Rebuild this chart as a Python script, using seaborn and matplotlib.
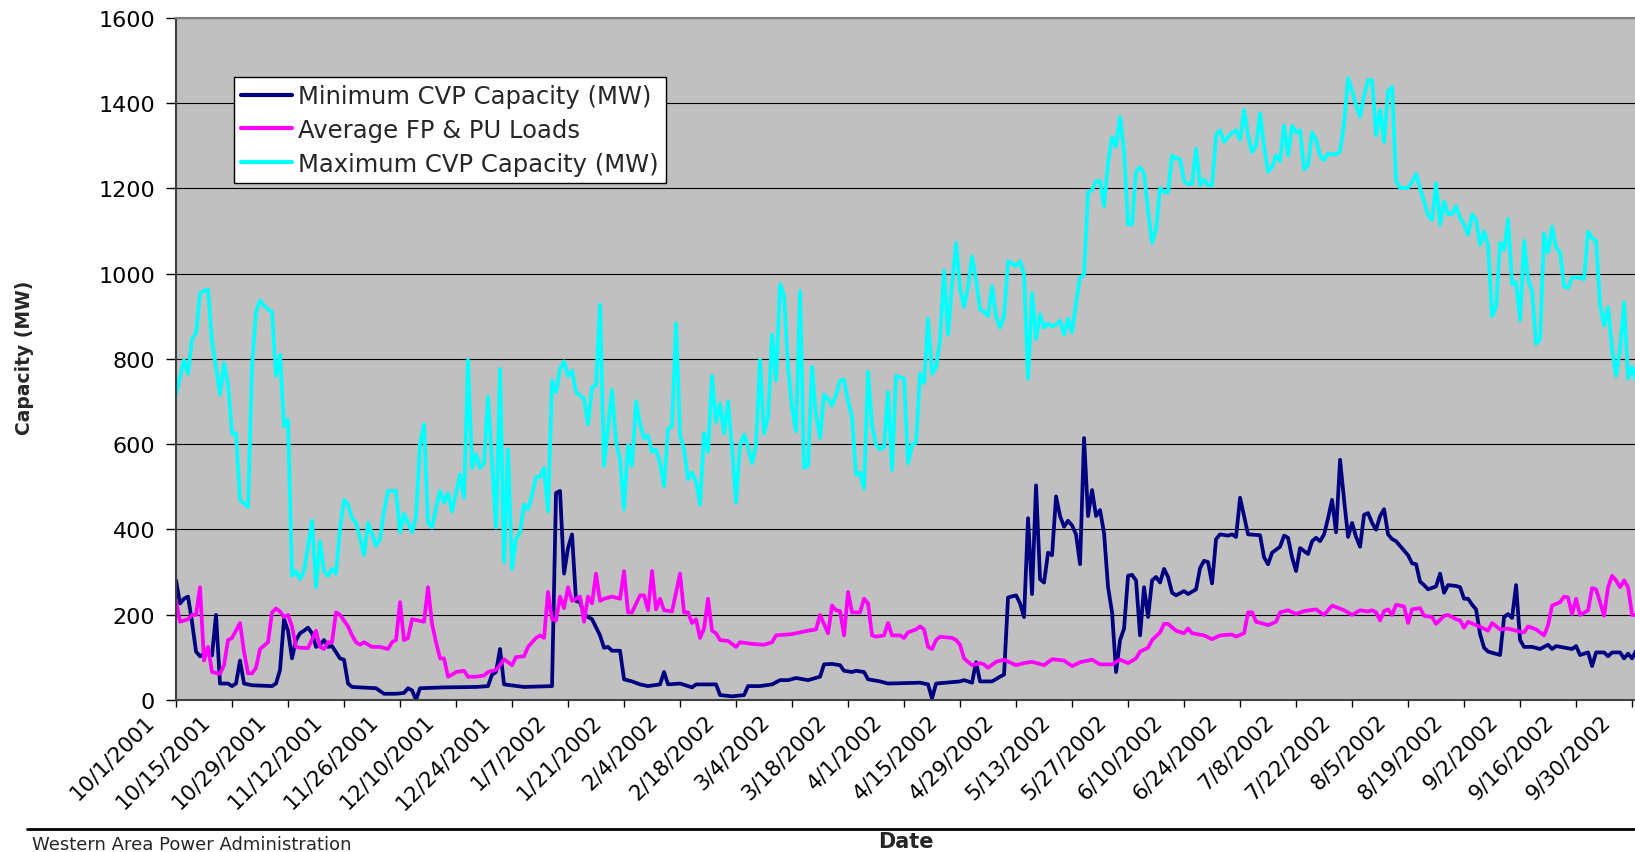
import matplotlib.pyplot as plt
import numpy as np
import pandas as pd
import seaborn as sns
from matplotlib.lines import Line2D
from matplotlib.transforms import ScaledTranslation

""" Parameter settings """
sns.set_style("white")
plt.rcParams["font.family"] = ["DejaVu Sans"]
px = 1 / 100  # figure is drawn at 100 dpi
fig_size = (1635 * px, 853 * px)
plot_bg = "#C0C0C0"

start_date = "2001-10-01"
series_names = [
    "Minimum CVP Capacity (MW)",
    "Average FP & PU Loads",
    "Maximum CVP Capacity (MW)",
]
series_colors = ["#000080", "#FF00FF", "#00FFFF"]

tick_labels = [
    "10/1/2001", "10/15/2001", "10/29/2001", "11/12/2001", "11/26/2001",
    "12/10/2001", "12/24/2001", "1/7/2002", "1/21/2002", "2/4/2002",
    "2/18/2002", "3/4/2002", "3/18/2002", "4/1/2002", "4/15/2002",
    "4/29/2002", "5/13/2002", "5/27/2002", "6/10/2002", "6/24/2002",
    "7/8/2002", "7/22/2002", "8/5/2002", "8/19/2002", "9/2/2002",
    "9/16/2002", "9/30/2002",
]
y_ticks = [0, 200, 400, 600, 800, 1000, 1200, 1400, 1600]

# Minimum CVP capacity: (days after 10/1/2001, MW)
min_points = [
    (0, 280), (1, 226), (2, 237), (3, 242), (4, 183), (5, 113), (6, 102), (7, 108),
    (8, 111), (9, 104), (10, 199), (11, 38), (13, 38), (14, 32), (15, 38), (16, 92),
    (17, 38), (19, 34), (24, 32), (25, 38), (26, 70), (27, 189), (28, 162), (29, 97),
    (30, 140), (31, 156), (32, 162), (33, 169), (34, 156), (35, 124), (36, 129),
    (37, 140), (38, 124), (39, 126), (41, 97), (42, 94), (43, 38), (44, 30), (50, 27),
    (52, 14), (55, 14), (57, 16), (58, 27), (59, 22), (60, 0), (61, 27), (67, 29),
    (75, 30), (78, 32), (79, 59), (80, 65), (81, 119), (82, 36), (87, 30), (94, 32),
    (95, 485), (96, 490), (97, 296), (98, 356), (99, 388), (100, 232), (101, 229),
    (102, 201), (103, 194), (104, 189), (106, 151), (107, 122), (108, 124), (109, 115),
    (111, 115), (112, 48), (114, 43), (116, 36), (118, 32), (121, 36), (122, 65),
    (123, 36), (126, 38), (129, 29), (130, 36), (135, 36), (136, 11), (139, 8),
    (142, 11), (143, 32), (146, 32), (149, 36), (151, 46), (153, 46), (155, 51),
    (158, 46), (161, 54), (162, 83), (164, 84), (166, 81), (167, 68), (169, 65),
    (170, 68), (172, 65), (173, 48), (176, 43), (178, 38), (186, 40), (188, 36),
    (189, 3), (190, 38), (196, 43), (197, 46), (199, 40), (200, 88), (201, 43),
    (204, 43), (206, 54), (207, 59), (208, 240), (210, 245), (211, 226), (212, 194),
    (213, 426), (214, 248), (215, 503), (216, 283), (217, 275), (218, 345), (219, 339),
    (220, 477), (221, 431), (222, 406), (223, 420), (224, 409), (225, 388), (226, 318),
    (227, 614), (228, 431), (229, 492), (230, 431), (231, 445), (232, 391), (233, 264),
    (234, 205), (235, 65), (236, 140), (237, 167), (238, 291), (239, 293), (240, 280),
    (241, 151), (242, 264), (243, 194), (244, 280), (245, 288), (246, 275), (247, 307),
    (248, 288), (249, 251), (250, 245), (252, 255), (253, 248), (255, 259), (256, 309),
    (257, 326), (258, 323), (259, 273), (260, 377), (261, 388), (263, 385), (264, 388),
    (265, 382), (266, 474), (267, 431), (268, 388), (271, 386), (272, 334), (273, 318),
    (274, 345), (276, 359), (277, 385), (278, 380), (279, 334), (280, 302), (281, 356),
    (283, 342), (284, 372), (285, 380), (286, 372), (287, 388), (288, 426), (289, 469),
    (290, 393), (291, 563), (292, 469), (293, 382), (294, 415), (295, 382), (296, 359),
    (297, 434), (298, 438), (299, 415), (300, 399), (301, 431), (302, 447), (303, 388),
    (304, 377), (305, 372), (307, 350), (308, 339), (309, 320), (310, 318), (311, 277),
    (312, 269), (313, 259), (315, 266), (316, 296), (317, 251), (318, 269), (320, 267),
    (321, 264), (322, 237), (323, 237), (324, 223), (325, 212), (326, 154), (327, 122),
    (328, 113), (331, 105), (332, 194), (333, 201), (334, 192), (335, 269), (336, 140),
    (337, 124), (339, 124), (341, 119), (343, 129), (344, 119), (345, 126), (349, 119),
    (350, 126), (351, 105), (353, 111), (354, 79), (355, 111), (357, 111), (358, 102),
    (359, 111), (361, 111), (362, 97), (363, 108), (364, 97), (365, 115),
]

# Average FP & PU loads: (days after 10/1/2001, MW)
avg_points = [
    (0, 232), (1, 183), (3, 189), (4, 199), (5, 199), (6, 264), (7, 92), (8, 124),
    (9, 65), (11, 61), (12, 81), (13, 140), (14, 145), (16, 180), (17, 113), (18, 62),
    (19, 62), (20, 75), (21, 119), (23, 135), (24, 205), (25, 214), (26, 207), (27, 194),
    (28, 199), (29, 172), (30, 124), (31, 122), (33, 121), (35, 162), (36, 124),
    (37, 119), (38, 135), (39, 135), (40, 205), (41, 199), (43, 172), (44, 151),
    (45, 135), (46, 129), (47, 135), (49, 124), (51, 124), (53, 119), (54, 135),
    (55, 140), (56, 229), (57, 140), (58, 145), (59, 189), (62, 183), (63, 264),
    (64, 178), (65, 135), (66, 97), (67, 97), (68, 54), (69, 59), (70, 65), (72, 68),
    (73, 54), (75, 54), (77, 57), (78, 65), (80, 70), (81, 81), (82, 95), (84, 81),
    (85, 100), (87, 102), (88, 124), (90, 145), (91, 151), (92, 145), (93, 253),
    (94, 189), (95, 186), (96, 242), (97, 215), (98, 264), (99, 232), (101, 242),
    (102, 183), (103, 242), (104, 226), (105, 296), (106, 232), (107, 237), (109, 242),
    (111, 237), (112, 302), (113, 205), (114, 205), (116, 245), (117, 245), (118, 210),
    (119, 302), (120, 212), (121, 237), (122, 210), (124, 207), (126, 296), (127, 205),
    (128, 205), (129, 180), (130, 189), (131, 145), (132, 167), (133, 237), (134, 162),
    (135, 156), (136, 140), (138, 138), (140, 124), (141, 135), (144, 131), (147, 129),
    (149, 135), (150, 151), (154, 154), (156, 158), (158, 162), (160, 165), (161, 199),
    (163, 156), (164, 221), (165, 210), (166, 208), (167, 151), (168, 253), (169, 205),
    (171, 205), (172, 237), (173, 226), (174, 151), (175, 148), (177, 151), (178, 180),
    (179, 151), (181, 151), (182, 145), (183, 158), (185, 165), (186, 172), (187, 165),
    (188, 124), (189, 119), (190, 140), (191, 148), (194, 145), (195, 140), (196, 129),
    (197, 97), (199, 81), (201, 86), (202, 83), (203, 75), (205, 89), (207, 94),
    (210, 81), (212, 86), (214, 89), (217, 81), (219, 95), (222, 92), (224, 79),
    (226, 88), (229, 94), (231, 83), (234, 83), (236, 94), (238, 86), (240, 97),
    (241, 113), (243, 122), (244, 140), (246, 158), (247, 178), (248, 178), (250, 162),
    (252, 156), (253, 167), (254, 156), (257, 151), (259, 142), (261, 151), (264, 153),
    (265, 148), (267, 156), (268, 205), (269, 205), (270, 183), (272, 178), (273, 175),
    (275, 183), (276, 205), (278, 210), (280, 201), (282, 208), (285, 212), (287, 199),
    (289, 221), (292, 210), (294, 199), (296, 210), (298, 207), (299, 210), (300, 205),
    (301, 186), (302, 208), (303, 212), (304, 199), (305, 223), (307, 219), (308, 180),
    (309, 212), (311, 215), (312, 197), (314, 194), (315, 178), (317, 197), (318, 199),
    (320, 189), (321, 186), (322, 169), (323, 183), (325, 175), (327, 167), (328, 162),
    (329, 180), (331, 165), (333, 167), (335, 162), (337, 158), (338, 172), (340, 165),
    (342, 151), (343, 175), (344, 221), (346, 229), (347, 242), (348, 240), (349, 201),
    (350, 237), (351, 199), (353, 210), (354, 262), (355, 259), (356, 229), (357, 197),
    (358, 264), (359, 291), (360, 280), (361, 264), (362, 280), (363, 264), (364, 199),
    (365, 199),
]

# Maximum CVP capacity, one value per day from 10/1/2001
max_mw = [
    716, 757, 797, 765, 846, 860, 953, 960, 962, 840,
    780, 716, 790, 740, 625, 625, 469, 460, 452, 780,
    910, 937, 925, 916, 910, 760, 810, 641, 657, 291,
    302, 283, 302, 360, 420, 264, 372, 302, 291, 307,
    296, 400, 469, 458, 426, 415, 380, 339, 415, 390,
    361, 377, 442, 490, 490, 490, 393, 436, 415, 393,
    430, 600, 646, 415, 404, 450, 490, 463, 485, 442,
    485, 528, 474, 797, 544, 576, 544, 555, 711, 560,
    404, 776, 323, 587, 307, 377, 393, 458, 447, 480,
    523, 523, 544, 442, 749, 722, 776, 794, 760, 772,
    722, 714, 706, 646, 733, 738, 927, 549, 640, 727,
    603, 566, 447, 598, 549, 700, 646, 614, 620, 582,
    587, 555, 501, 636, 641, 883, 620, 587, 517, 533,
    512, 458, 625, 582, 760, 652, 695, 625, 700, 593,
    463, 598, 622, 593, 555, 598, 797, 625, 663, 857,
    749, 975, 948, 781, 684, 630, 959, 544, 549, 781,
    668, 614, 716, 706, 690, 716, 749, 751, 700, 663,
    528, 533, 496, 770, 641, 598, 587, 593, 722, 539,
    760, 757, 754, 555, 598, 603, 765, 743, 894, 765,
    781, 846, 1007, 857, 975, 1072, 964, 921, 970, 1040,
    986, 916, 910, 900, 970, 900, 873, 900, 1029, 1024,
    1018, 1029, 997, 754, 954, 846, 905, 873, 883, 876,
    880, 889, 857, 894, 862, 932, 991, 997, 1191, 1196,
    1217, 1217, 1158, 1261, 1320, 1298, 1368, 1287, 1115, 1115,
    1239, 1250, 1234, 1147, 1072, 1104, 1201, 1191, 1191, 1277,
    1271, 1268, 1217, 1210, 1210, 1293, 1207, 1221, 1207, 1207,
    1325, 1336, 1309, 1320, 1331, 1336, 1314, 1384, 1325, 1285,
    1300, 1376, 1298, 1239, 1250, 1277, 1264, 1347, 1277, 1347,
    1331, 1336, 1244, 1255, 1331, 1314, 1277, 1266, 1282, 1280,
    1279, 1287, 1352, 1458, 1428, 1395, 1368, 1417, 1454, 1454,
    1325, 1384, 1309, 1428, 1438, 1217, 1201, 1201, 1201, 1215,
    1234, 1200, 1169, 1137, 1126, 1212, 1115, 1169, 1139, 1139,
    1158, 1130, 1115, 1091, 1139, 1126, 1067, 1099, 1067, 900,
    921, 1072, 1056, 1128, 975, 980, 891, 1077, 986, 959,
    835, 846, 1094, 1050, 1110, 1061, 1050, 970, 966, 991,
    991, 991, 986, 1099, 1083, 1077, 927, 878, 921, 824,
    760, 824, 932, 754, 781, 749,
]


def to_frame(days, values, name):
    dates = pd.Timestamp(start_date) + pd.to_timedelta(np.asarray(days), unit="D")
    return pd.DataFrame({"Date": dates, "Capacity": values, "Series": name})


def capacity_plot(filename: str = "out.png"):
    min_days, min_mw = zip(*min_points)
    avg_days, avg_mw = zip(*avg_points)
    df = pd.concat(
        [
            to_frame(min_days, min_mw, series_names[0]),
            to_frame(avg_days, avg_mw, series_names[1]),
            to_frame(np.arange(len(max_mw)), max_mw, series_names[2]),
        ],
        ignore_index=True,
    )

    fig = plt.figure(figsize=fig_size, dpi=100)
    ax = fig.add_axes([0.10765, 0.1785, 0.8924, 0.7994])
    ax.set_facecolor(plot_bg)

    sns.lineplot(
        data=df,
        x="Date",
        y="Capacity",
        hue="Series",
        hue_order=series_names,
        palette=dict(zip(series_names, series_colors)),
        estimator=None,
        linewidth=2.7,
        solid_joinstyle="round",
        legend=False,
        ax=ax,
    )

    # axes, grid
    start = pd.Timestamp(start_date)
    ax.set_xlim(start, start + pd.Timedelta(days=364.75))
    ax.set_ylim(0, 1600)
    ax.set_yticks(y_ticks)
    ax.yaxis.grid(True, color="black", linewidth=0.8)
    ax.set_axisbelow(True)
    ax.set(xlabel="", ylabel="")

    ax.tick_params(axis="y", left=True, direction="out", length=7, width=1,
                   pad=8, labelsize=16, colors="black")
    ax.tick_params(axis="x", bottom=True, direction="out", length=5, width=1,
                   pad=10.9, labelsize=15.5, colors="black")

    tick_dates = pd.to_datetime(tick_labels, format="%m/%d/%Y")
    ax.set_xticks(tick_dates)
    ax.set_xticklabels(
        tick_labels, rotation=45, ha="right", va="baseline", rotation_mode="anchor"
    )
    # label ends sit a little left of their tick, as in the original
    shift = ScaledTranslation(-21 / 100, 0, fig.dpi_scale_trans)
    for label in ax.get_xticklabels():
        label.set_transform(label.get_transform() + shift)

    for side in ["left", "bottom"]:
        ax.spines[side].set_color("#404040")
        ax.spines[side].set_linewidth(1.5)
    ax.spines["top"].set_color("#808080")
    ax.spines["top"].set_linewidth(1.5)
    ax.spines["right"].set_visible(False)

    # legend
    handles = [Line2D([], [], color=c, linewidth=3) for c in series_colors]
    leg = ax.legend(
        handles,
        series_names,
        loc="upper left",
        bbox_to_anchor=(0.1431, 0.9086),
        bbox_transform=fig.transFigure,
        borderaxespad=0,
        fontsize=17.5,
        frameon=True,
        fancybox=False,
        framealpha=1,
        edgecolor="black",
        borderpad=0.3,
        labelspacing=0.4,
        handlelength=2.1,
        handletextpad=0.24,
    )
    leg.get_frame().set_linewidth(1.0)

    # labels and footer
    fig.text(24 / 1635, (853 - 358) / 853, "Capacity (MW)", rotation=90,
             ha="center", va="center", fontsize=13.5, fontweight="bold")
    fig.text(906 / 1635, (853 - 832) / 853, "Date", ha="center", va="top",
             fontsize=15, fontweight="bold")
    fig.text(32 / 1635, (853 - 836) / 853, "Western Area Power Administration",
             ha="left", va="top", fontsize=13)
    fig.add_artist(Line2D([27 / 1635, 1.0], [(853 - 830) / 853] * 2,
                          transform=fig.transFigure, color="black", linewidth=2))

    fig.savefig(filename, dpi=100)


capacity_plot("out.png")
